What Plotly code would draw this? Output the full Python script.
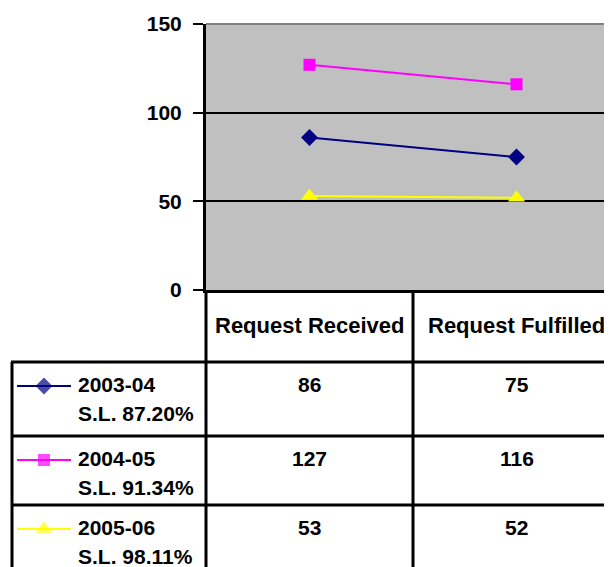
import plotly.graph_objects as go

categories = ["Request Received", "Request Fulfilled"]
series_names = ["2003-04", "2004-05", "2005-06"]
service_levels = ["S.L. 87.20%", "S.L. 91.34%", "S.L. 98.11%"]
values_2003_04 = [86, 75]
values_2004_05 = [127, 116]
values_2005_06 = [53, 52]
all_values = [values_2003_04, values_2004_05, values_2005_06]
y_ticks = [0, 50, 100, 150]

colors = ["#000080", "#FF00FF", "#FFFF00"]
symbols = ["diamond", "square", "triangle-up"]
msizes = [13, 12, 15]

W, H = 612, 567
OFF = 8  # page body offset
PX_L, PX_T, PX_B = 206, 24, 290   # plot area in page pixels
CAT_W = 207
FONT = "Liberation Sans, Arial, sans-serif"

fig = go.Figure()

for name, vals, c, s, ms in zip(series_names, all_values, colors, symbols, msizes):
    fig.add_trace(go.Scatter(
        x=list(range(len(categories))), y=vals, mode="lines+markers", name=name,
        line=dict(color=c, width=2), marker=dict(color=c, symbol=s, size=ms, line=dict(width=0)),
        xaxis="x", yaxis="y", showlegend=False, cliponaxis=False))

# table geometry (page pixel coords on overlay axes)
row_tops = [362, 436, 505]
col_lines = [PX_L, PX_L + CAT_W]
line_w = 3

# legend keys in table rows
for i, (c, s, ms) in enumerate(zip(colors, symbols, msizes)):
    yk = row_tops[i] + 24
    fig.add_trace(go.Scatter(
        x=[17, 44, 71], y=[yk, yk, yk], mode="lines+markers",
        line=dict(color=c, width=2),
        marker=dict(color=c, symbol=s, size=[0, ms, 0], line=dict(width=0)),
        xaxis="x2", yaxis="y2", showlegend=False, hoverinfo="skip", cliponaxis=False))

shapes = []
shapes.append(dict(type="rect", xref="x domain", yref="y domain", x0=0, x1=1, y0=0, y1=1,
                   fillcolor="#C0C0C0", line=dict(width=0), layer="below"))
shapes.append(dict(type="line", xref="x domain", yref="y domain", x0=0, x1=1, y0=1, y1=1,
                   line=dict(color="#808080", width=2)))
for yt in row_tops:
    shapes.append(dict(type="line", xref="x2", yref="y2", x0=11, x1=W + 20, y0=yt, y1=yt,
                       line=dict(color="black", width=line_w)))
shapes.append(dict(type="line", xref="x2", yref="y2", x0=12, x1=12, y0=row_tops[0], y1=H + 20,
                   line=dict(color="black", width=line_w)))
for xc in col_lines:
    shapes.append(dict(type="line", xref="x2", yref="y2", x0=xc, x1=xc, y0=PX_B, y1=H + 20,
                       line=dict(color="black", width=line_w)))

annotations = []
tfont = dict(family=FONT, size=21, color="black", weight="bold")
hfont = dict(family=FONT, size=22, color="black", weight="bold")
for j, cat in enumerate(categories):
    annotations.append(dict(x=j, y=(PX_B + row_tops[0]) / 2 - 1, xref="x", yref="y2", text=cat,
                            showarrow=False, font=hfont, xanchor="center", yanchor="middle"))
for i, (name, sl, vals) in enumerate(zip(series_names, service_levels, all_values)):
    y1 = row_tops[i] + 22
    y2 = row_tops[i] + 51
    annotations.append(dict(x=76, y=y1, xref="x2", yref="y2", text=name, showarrow=False,
                            font=tfont, xanchor="left", yanchor="middle"))
    annotations.append(dict(x=76, y=y2, xref="x2", yref="y2", text=sl, showarrow=False,
                            font=tfont, xanchor="left", yanchor="middle"))
    for j, v in enumerate(vals):
        annotations.append(dict(x=j, y=y1, xref="x", yref="y2", text=str(v), showarrow=False,
                                font=tfont, xanchor="center", yanchor="middle"))

fig.update_layout(
    width=W, height=H, margin=dict(l=0, r=0, t=0, b=0, autoexpand=False),
    paper_bgcolor="white", plot_bgcolor="rgba(0,0,0,0)",
    xaxis=dict(domain=[(PX_L - OFF) / W, 1], range=[-0.5, -0.5 + (W + OFF - PX_L) / CAT_W],
               type="linear", showticklabels=False, showgrid=False, zeroline=False,
               showline=True, linecolor="black", linewidth=3, ticks="", anchor="y",
               automargin=False),
    yaxis=dict(domain=[(H - (PX_B - OFF)) / H, (H - (PX_T - OFF)) / H], range=[0, 150],
               tickvals=y_ticks, showgrid=True, gridcolor="black", gridwidth=2, zeroline=False,
               showline=True, linecolor="black", linewidth=3,
               ticks="outside", ticklen=10, tickwidth=2, tickcolor="black",
               ticklabelstandoff=7,
               tickfont=dict(family=FONT, size=21, color="black", weight="bold"), anchor="x",
               automargin=False),
    xaxis2=dict(domain=[0, 1], range=[OFF, W + OFF], visible=False, anchor="y2",
                fixedrange=True, automargin=False),
    yaxis2=dict(domain=[0, 1], range=[H + OFF, OFF], visible=False, anchor="x2",
                fixedrange=True, automargin=False),
    shapes=shapes, annotations=annotations,
)

fig.write_html("out.html")
